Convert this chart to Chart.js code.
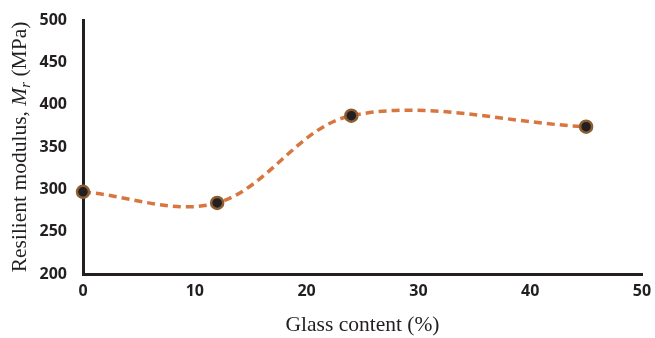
<!DOCTYPE html>
<html>
<head>
<meta charset="utf-8">
<script src="https://cdn.jsdelivr.net/npm/chart.js@4.4.1/dist/chart.umd.min.js"></script>
<style>
  html, body { margin: 0; padding: 0; background: #fff; }
  #wrap { width: 655px; height: 338px; position: relative; }
</style>
</head>
<body>
<div id="wrap"><canvas id="chartCanvas"></canvas></div>
<script>
// glass content (%) vs resilient modulus (MPa)
const glassContent = [0, 12, 24, 45];
const modulus = [297, 284, 387, 374];
const xTicks = [0, 10, 20, 30, 40, 50];
const yTicks = [200, 250, 300, 350, 400, 450, 500];

const ink = "#231f20";
const serif = "'Liberation Serif', 'Times New Roman', serif";
const tickFont = { family: "'Open Sans', sans-serif", size: 16, weight: "bold" };

// y title has an italic M with subscript r, so it is drawn by hand
const yTitle = {
  id: "yTitle",
  afterDraw(chart) {
    const { ctx, chartArea } = chart;
    const cy = (chartArea.top + chartArea.bottom) / 2;
    ctx.save();
    ctx.translate(20, cy);
    ctx.rotate(-Math.PI / 2);
    ctx.fillStyle = ink;
    ctx.textBaseline = "middle";
    const parts = [
      { t: "Resilient modulus, ", f: `21.5px ${serif}`, dy: 0 },
      { t: "M", f: `italic 21.5px ${serif}`, dy: 0 },
      { t: "r", f: `italic 15px ${serif}`, dy: 6 },
      { t: " (MPa)", f: `21.5px ${serif}`, dy: 0 }
    ];
    let total = 0;
    parts.forEach((p) => { ctx.font = p.f; p.w = ctx.measureText(p.t).width; total += p.w; });
    let x = -total / 2;
    parts.forEach((p) => {
      ctx.font = p.f;
      ctx.fillText(p.t, x, p.dy);
      x += p.w;
    });
    ctx.restore();
  }
};

const ctx = document.getElementById("chartCanvas").getContext("2d");
new Chart(ctx, {
  type: "line",
  data: {
    datasets: [{
      data: glassContent.map((x, i) => ({ x, y: modulus[i] })),
      borderColor: "#d8763f",
      borderWidth: 3.5,
      borderDash: [8, 5],
      tension: 0.35,
      pointRadius: 6,
      pointBackgroundColor: ink,
      pointBorderColor: "#8b5e34",
      pointBorderWidth: 2.5,
      clip: false
    }]
  },
  options: {
    responsive: true,
    maintainAspectRatio: false,
    animation: false,
    layout: { padding: { top: 20, right: 13, left: 0, bottom: 0 } },
    plugins: { legend: { display: false }, tooltip: { enabled: false } },
    scales: {
      x: {
        type: "linear",
        min: 0,
        max: 50,
        afterBuildTicks: (s) => { s.ticks = xTicks.map((v) => ({ value: v })); },
        afterFit: (s) => { s.height = 64; },
        grid: { display: false, drawTicks: true, tickLength: 7, tickWidth: 2, tickColor: ink },
        border: { color: ink, width: 3 },
        ticks: { font: tickFont, color: ink, padding: 1, maxRotation: 0 },
        title: {
          display: true,
          text: "Glass content (%)",
          color: ink,
          font: { family: serif, size: 21.5 },
          padding: { top: 0, bottom: 0 }
        }
      },
      y: {
        min: 200,
        max: 500,
        afterBuildTicks: (s) => { s.ticks = yTicks.map((v) => ({ value: v })); },
        afterFit: (s) => { s.width = 83; },
        grid: { display: false, drawTicks: true, tickLength: 6, tickWidth: 2, tickColor: ink },
        border: { color: ink, width: 3 },
        ticks: { font: tickFont, color: ink, padding: 10 }
      }
    }
  },
  plugins: [yTitle]
});
</script>
</body>
</html>
